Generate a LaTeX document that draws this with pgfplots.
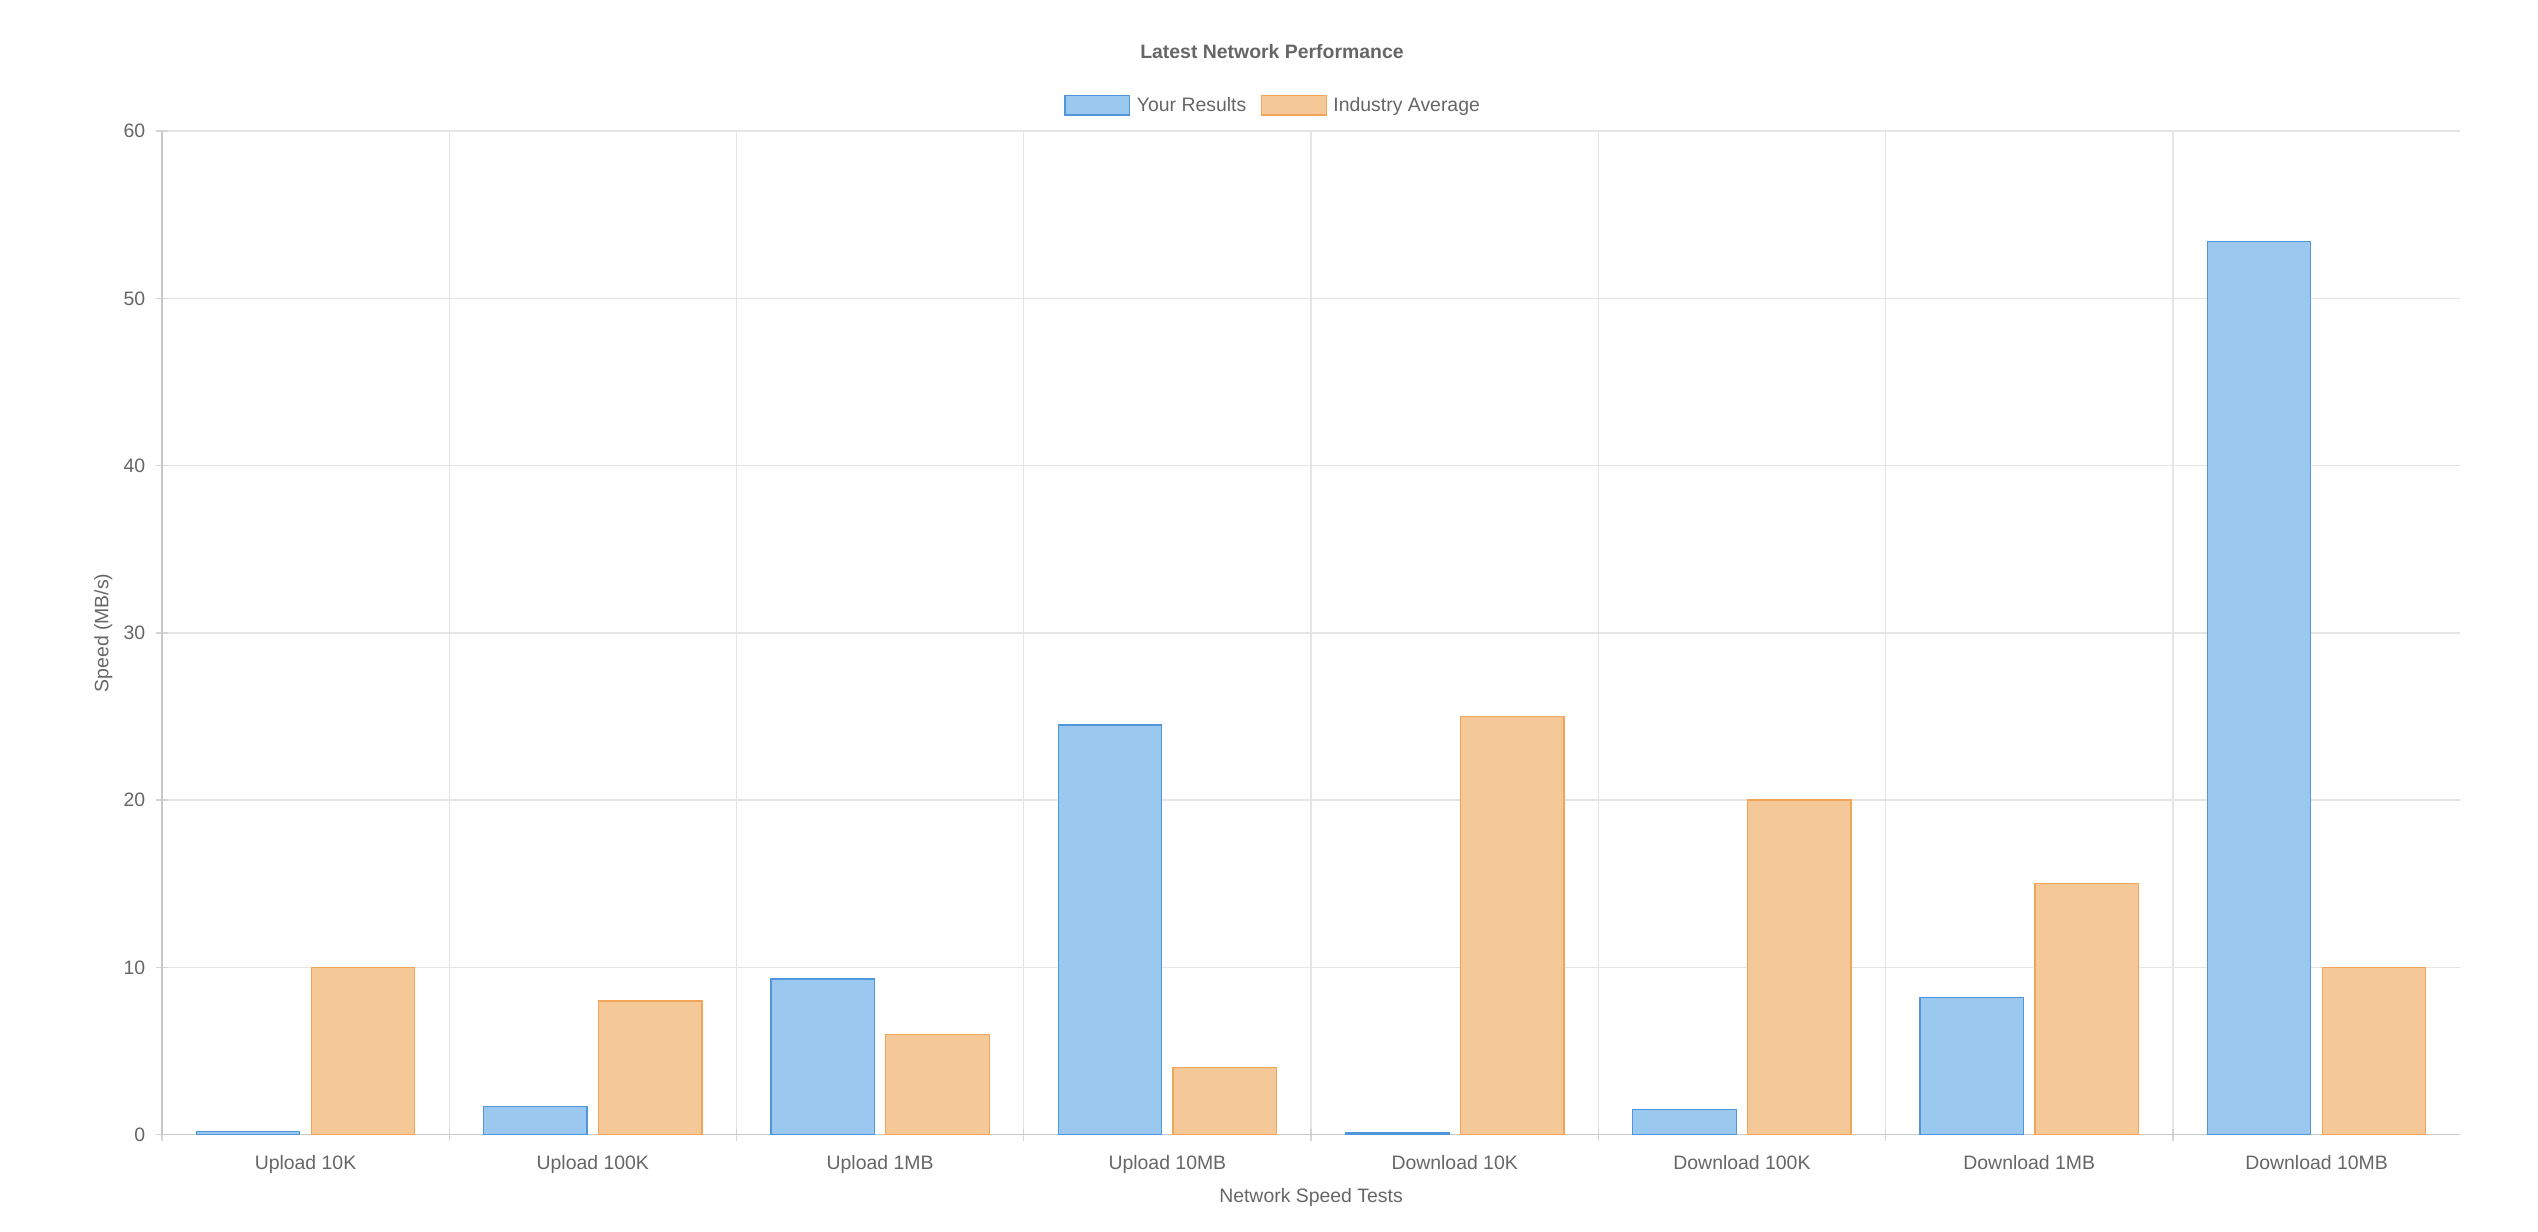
\documentclass[border=0pt]{standalone}
\usepackage{pgfplots}
\pgfplotsset{compat=1.18}
\usepackage{fontspec}
\setmainfont{Liberation Sans}
\definecolor{textgray}{HTML}{666666}
\definecolor{gridgray}{HTML}{E5E5E5}
\definecolor{tickgray}{HTML}{D5D5D5}
\definecolor{axisgray}{HTML}{C8C8C8}
\definecolor{bluefill}{RGB}{155,200,238}
\definecolor{blueline}{RGB}{80,150,220}
\definecolor{orangefill}{RGB}{245,200,152}
\definecolor{orangeline}{RGB}{240,165,90}
\begin{document}
\begin{tikzpicture}
\path[use as bounding box] (-100pt,-60pt) rectangle (1468pt,701pt);
\begin{axis}[
  at={(0,0)}, anchor=south west,
  scale only axis, width=1420pt, height=620pt,
  xmin=-0.5, xmax=7.5, ymin=0, ymax=60,
  ytick={0,10,...,60},
  xtick={-0.5,0.5,...,6.5},
  xticklabels={},
  extra x ticks={0,...,7},
  extra x tick labels={Upload 10K,Upload 100K,Upload 1MB,Upload 10MB,Download 10K,Download 100K,Download 1MB,Download 10MB},
  extra x tick style={grid=none, tick style={draw=none}},
  xmajorgrids=true,
  ymajorgrids=true,
  grid style={draw=gridgray, line width=0.8pt},
  tick style={draw=tickgray, line width=0.8pt},
  major tick length=7.5pt,
  tick align=outside,
  tick pos=left,
  axis lines=left,
  axis line style={-, draw=axisgray, line width=0.8pt},
  /pgf/number format/assume math mode=true,
  tick label style={font=\fontsize{12}{14}\selectfont, text=textgray},
  yticklabel style={anchor=east, xshift=-3pt},
  xticklabel style={anchor=base, yshift=-18pt},
  title={Latest Network Performance},
  title style={at={(axis description cs:0.483,1.0693)}, anchor=center, yshift=0pt, font=\fontsize{12}{14}\selectfont\bfseries, text=textgray},
  xlabel={Network Speed Tests},
  xlabel style={at={(axis description cs:0.5,-0.0629)}, anchor=center, font=\fontsize{12}{14}\selectfont, text=textgray},
  ylabel={Speed (MB/s)},
  ylabel style={at={(axis description cs:-0.0254,0.5)}, anchor=center, font=\fontsize{12}{14}\selectfont, text=textgray},
  legend columns=2,
  legend style={at={(axis description cs:0.4845,1.0258)}, anchor=center, draw=none, fill=none,
    font=\fontsize{12}{14}\selectfont, text=textgray,
    nodes={inner xsep=4pt},
    /tikz/every even column/.append style={column sep=5pt}},
  legend image code/.code={\draw[#1, line width=0.8pt] (0pt,-6pt) rectangle (40pt,6pt);},
]
\addplot[ybar, bar width=0.36, bar shift=-0.2, fill=bluefill, draw=blueline, line width=0.8pt]
  coordinates {(0,0.2) (1,1.7) (2,9.3) (3,24.5) (4,0.1) (5,1.5) (6,8.2) (7,53.4)};
\addlegendentry{Your Results}
\addplot[ybar, bar width=0.36, bar shift=0.2, fill=orangefill, draw=orangeline, line width=0.8pt]
  coordinates {(0,10) (1,8) (2,6) (3,4) (4,25) (5,20) (6,15) (7,10)};
\addlegendentry{Industry Average}
\end{axis}
\end{tikzpicture}
\end{document}
